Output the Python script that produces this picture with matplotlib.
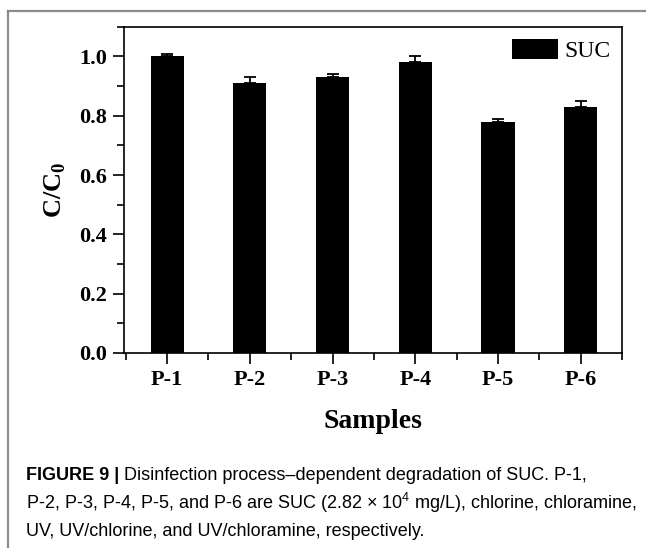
import matplotlib
matplotlib.use('Agg')
import matplotlib.pyplot as plt
from matplotlib.lines import Line2D
from matplotlib.ticker import MultipleLocator, FixedLocator

# Dados
amostras = ['P-1', 'P-2', 'P-3', 'P-4', 'P-5', 'P-6']
c_c0 = [1.00, 0.91, 0.93, 0.98, 0.78, 0.83]
erro = [0.01, 0.02, 0.01, 0.02, 0.01, 0.02]

plt.rcParams['font.family'] = 'Liberation Serif'
plt.rcParams['mathtext.fontset'] = 'custom'
plt.rcParams['mathtext.rm'] = 'Liberation Serif:bold'
plt.rcParams['mathtext.sf'] = 'Liberation Sans'

fig = plt.figure(figsize=(6.46, 5.48), dpi=100)
ax = fig.add_axes([0.192, 0.356, 0.771, 0.595])

x = list(range(1, len(amostras) + 1))
ax.bar(x, c_c0, width=0.4, color='black', label='SUC',
       yerr=[[0] * len(erro), erro], capsize=4,
       error_kw=dict(ecolor='black', elinewidth=1.3, capthick=1.3))

ax.set_xlim(0.48, 6.5)
ax.set_ylim(0, 1.1)
ax.set_xticks(x)
ax.set_xticklabels(amostras, fontsize=16, fontweight='bold')
ax.xaxis.set_minor_locator(FixedLocator([i + 0.5 for i in range(0, 7)]))
ax.yaxis.set_major_locator(MultipleLocator(0.2))
ax.yaxis.set_minor_locator(MultipleLocator(0.1))
ax.set_yticklabels([f'{v:.1f}' for v in ax.get_yticks()], fontsize=16, fontweight='bold')
ax.tick_params(which='major', direction='out', length=8, width=1.2, pad=4)
ax.tick_params(which='minor', direction='out', length=5, width=1.2)
for s in ax.spines.values():
    s.set_linewidth(1.2)

ax.set_xlabel('Samples', fontsize=20, fontweight='bold', labelpad=14)
ax.set_ylabel('C/C$_0$', fontsize=19, fontweight='bold', labelpad=8)

ax.legend(loc='upper right', fontsize=17, frameon=False, handlelength=1.95,
          handleheight=0.95, borderpad=0.2, borderaxespad=0.3, handletextpad=0.25)

# moldura cinza (topo e esquerda)
fig.add_artist(Line2D([8 / 646, 1], [1 - 11 / 548, 1 - 11 / 548], color='#8c8c8c', lw=1.6))
fig.add_artist(Line2D([8 / 646, 8 / 646], [1 - 11 / 548, 0], color='#8c8c8c', lw=1.6))

# legenda da figura
cap = dict(family='Liberation Sans', fontsize=13)
x0 = 26 / 646
t1 = fig.text(x0, 1 - 475 / 548, 'FIGURE 9 |', fontweight='bold', va='center', **cap)
ax.annotate(' Disinfection process\u2013dependent degradation of SUC. P-1,',
            xy=(1, 0.5), xycoords=t1, va='center', ha='left', **cap)
fig.text(x0, 1 - 503 / 548,
         'P-2, P-3, P-4, P-5, and P-6 are SUC (2.82 \u00d7 10$^{\\mathsf{4}}$ mg/L), chlorine, chloramine,',
         va='center', **cap)
fig.text(x0, 1 - 531 / 548, 'UV, UV/chlorine, and UV/chloramine, respectively.',
         va='center', **cap)

fig.savefig('out.png', dpi=100)
